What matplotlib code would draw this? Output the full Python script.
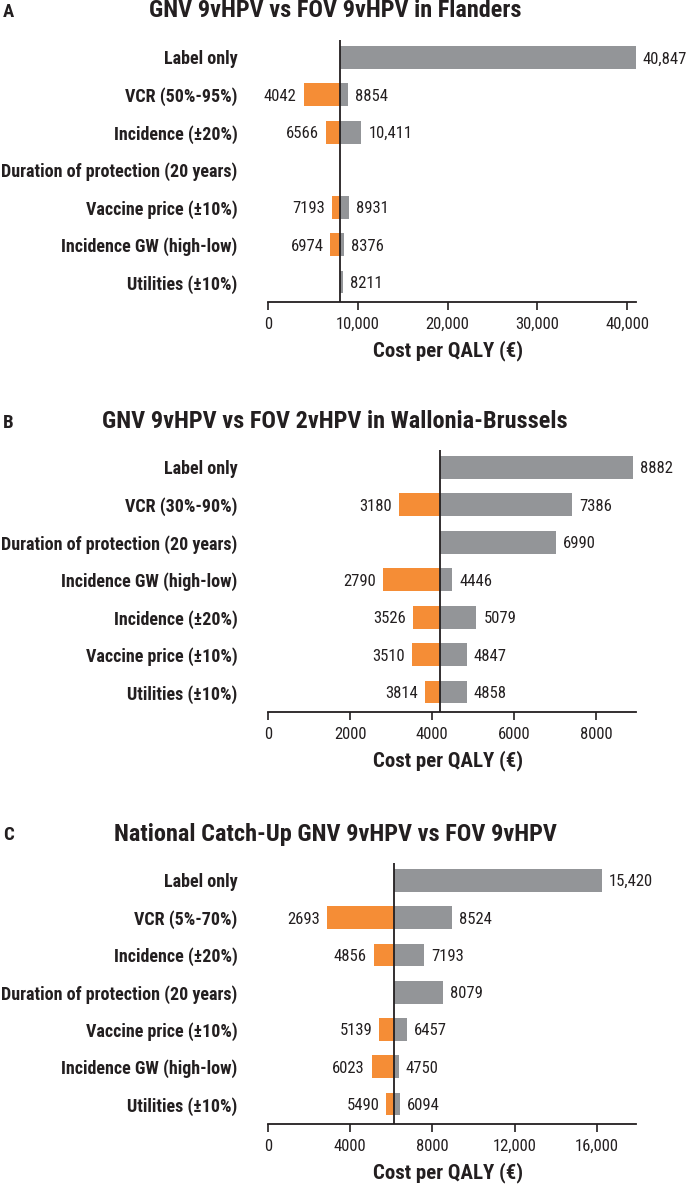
"""
tornado_icer.py — one-way sensitivity tornado plots (cost per QALY), three panels.
"""

import matplotlib

matplotlib.use("Agg")
import matplotlib.pyplot as plt  # noqa: E402

# condensed sans, closest to the squeezed Helvetica of the original
FONT = ["Roboto Condensed", "DejaVu Sans"]
ORANGE = "#F58D36"
GREY = "#939598"
INK = "#231F20"

# panel A — Flanders
a_title = "GNV 9vHPV vs FOV 9vHPV in Flanders"
a_params = ["Label only", "VCR (50%-95%)", "Incidence (\u00b120%)",
            "Duration of protection (20 years)", "Vaccine price (\u00b110%)",
            "Incidence GW (high-low)", "Utilities (\u00b110%)"]
a_base = 8050
a_low = [8050, 3960, 6480, 8050, 7110, 6960, 8050]
a_high = [41000, 8960, 10410, 8050, 9070, 8520, 8330]
a_low_txt = ["", "4042", "6566", "", "7193", "6974", ""]
a_high_txt = ["40,847", "8854", "10,411", "", "8931", "8376", "8211"]
a_ticks = [0, 10000, 20000, 30000, 40000]
a_ticklabels = ["0", "10,000", "20,000", "30,000", "40,000"]
a_xmax = 41000

# panel B — Wallonia-Brussels
b_title = "GNV 9vHPV vs FOV 2vHPV in Wallonia-Brussels"
b_params = ["Label only", "VCR (30%-90%)", "Duration of protection (20 years)",
            "Incidence GW (high-low)", "Incidence (\u00b120%)",
            "Vaccine price (\u00b110%)", "Utilities (\u00b110%)"]
b_base = 4200
b_low = [4200, 3187, 4200, 2810, 3532, 3499, 3822]
b_high = [8900, 7418, 7009, 4490, 5082, 4845, 4845]
b_low_txt = ["", "3180", "", "2790", "3526", "3510", "3814"]
b_high_txt = ["8882", "7386", "6990", "4446", "5079", "4847", "4858"]
b_ticks = [0, 2000, 4000, 6000, 8000]
b_ticklabels = ["0", "2000", "4000", "6000", "8000"]
b_xmax = 8970

# panel C — national catch-up
c_title = "National Catch-Up GNV 9vHPV vs FOV 9vHPV"
c_params = ["Label only", "VCR (5%-70%)", "Incidence (\u00b120%)",
            "Duration of protection (20 years)", "Vaccine price (\u00b110%)",
            "Incidence GW (high-low)", "Utilities (\u00b110%)"]
c_base = 6130
c_low = [6130, 2880, 5140, 6130, 5400, 5050, 5760]
c_high = [16240, 8950, 7590, 8500, 6770, 6370, 6430]
c_low_txt = ["", "2693", "4856", "", "5139", "6023", "5490"]
c_high_txt = ["15,420", "8524", "7193", "8079", "6457", "4750", "6094"]
c_ticks = [0, 4000, 8000, 12000, 16000]
c_ticklabels = ["0", "4000", "8000", "12,000", "16,000"]
c_xmax = 17900

W, H = 692, 1185


def tornado(fig, rect_px, letter, title, title_base, params, base, low, high,
            low_txt, high_txt, ticks, ticklabels, xmax):
    x0, y_top, x1, y_bot = rect_px
    ax = fig.add_axes([x0 / W, 1 - y_bot / H, (x1 - x0) / W, (y_bot - y_top) / H])
    rows = list(range(len(params)))
    h = 0.61
    for i in rows:
        if low[i] < base:
            ax.barh(i, base - low[i], left=low[i], height=h, color=ORANGE, zorder=2)
        if high[i] > base:
            ax.barh(i, high[i] - base, left=base, height=h, color=GREY, zorder=2)
        if low_txt[i]:
            ax.annotate(low_txt[i], (low[i], i), xytext=(-5, -1), textcoords="offset points",
                        ha="right", va="center", fontsize=12, color=INK, family=FONT)
        if high_txt[i]:
            ax.annotate(high_txt[i], (high[i], i), xytext=(5, -1), textcoords="offset points",
                        ha="left", va="center", fontsize=12, color=INK, family=FONT)
    ax.axvline(base, color=INK, linewidth=1.3, zorder=3)

    ax.set_xlim(0, xmax)
    ax.set_ylim(len(params) - 1 + 0.533, -0.467)
    ax.set_yticks(rows)
    ax.set_yticklabels(params, fontsize=13, fontweight="bold", color=INK, family=FONT)
    ax.tick_params(axis="y", length=0, pad=22)
    ax.set_xticks(ticks)
    ax.set_xticklabels(ticklabels, fontsize=12, color=INK, family=FONT)
    ax.tick_params(axis="x", direction="out", length=5.5, width=1.2, color=INK, pad=5)
    for side in ("left", "right", "top"):
        ax.spines[side].set_visible(False)
    ax.spines["bottom"].set_linewidth(1.3)
    ax.spines["bottom"].set_color(INK)

    fig.text(448 / W, 1 - (y_bot + 54.5) / H, "Cost per QALY (\u20ac)", ha="center",
             va="baseline", fontsize=15, fontweight="bold", color=INK, family=FONT)
    fig.text(335 / W, 1 - title_base / H, title, ha="center", va="baseline",
             fontsize=17.5, fontweight="bold", color=INK, family=FONT)
    fig.text(3 / W, 1 - title_base / H, letter, ha="left", va="baseline",
             fontsize=13.5, fontweight="bold", color=INK, family=FONT)
    return ax


def main():
    fig = plt.figure(figsize=(W / 100, H / 100), dpi=100)
    tornado(fig, (268, 40, 636, 302), "A", a_title, 17.3, a_params, a_base,
            a_low, a_high, a_low_txt, a_high_txt, a_ticks, a_ticklabels, a_xmax)
    tornado(fig, (268, 450, 636, 712), "B", b_title, 428, b_params, b_base,
            b_low, b_high, b_low_txt, b_high_txt, b_ticks, b_ticklabels, b_xmax)
    tornado(fig, (268, 863, 636, 1124), "C", c_title, 840.5, c_params, c_base,
            c_low, c_high, c_low_txt, c_high_txt, c_ticks, c_ticklabels, c_xmax)
    fig.savefig("out.png", dpi=100, facecolor="white")
    plt.close(fig)


if __name__ == "__main__":
    main()
